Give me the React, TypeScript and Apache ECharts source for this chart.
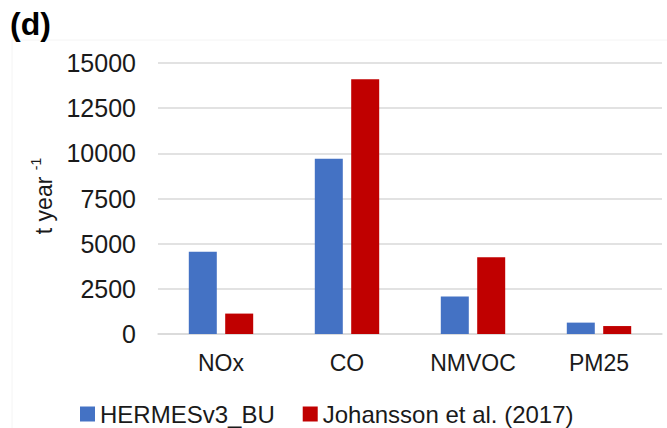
import React, { useEffect, useRef } from "react";
import * as echarts from "echarts";

const categories = ["NOx", "CO", "NMVOC", "PM25"];
const hermesValues = [4550, 9700, 2070, 630];
const johanssonValues = [1130, 14100, 4250, 440];
const seriesNames = ["HERMESv3_BU", "Johansson et al. (2017)"];
const yTicks = { min: 0, max: 15000, interval: 2500 };

export default function App() {
  const ref = useRef<HTMLDivElement>(null);
  useEffect(() => {
    if (!ref.current) return;
    const chart = echarts.init(ref.current, undefined, { renderer: "svg" });
    const font = "Liberation Sans, Arial, sans-serif";
    chart.setOption({
      animation: false,
      backgroundColor: "#ffffff",
      textStyle: { fontFamily: font },
      grid: { left: 158, right: 5, top: 63, bottom: 94, containLabel: false },
      xAxis: {
        type: "category",
        data: categories,
        axisTick: { show: false },
        axisLine: { lineStyle: { color: "#d9d9d9", width: 1.5 } },
        axisLabel: { color: "#1a1a1a", fontSize: 23, margin: 17, fontFamily: font },
      },
      yAxis: {
        type: "value",
        min: yTicks.min,
        max: yTicks.max,
        interval: yTicks.interval,
        axisLine: { show: false },
        axisTick: { show: false },
        splitLine: { lineStyle: { color: "#d9d9d9", width: 1.5 } },
        axisLabel: {
          color: "#1a1a1a",
          fontSize: 25,
          margin: 22,
          fontFamily: font,
          formatter: (v: number) => String(v),
        },
      },
      legend: {
        left: 75,
        top: 397,
        icon: "rect",
        itemWidth: 15,
        itemHeight: 15,
        itemGap: 28,
        textStyle: { color: "#1a1a1a", fontSize: 24, fontFamily: font },
        data: seriesNames,
      },
      series: [
        {
          name: seriesNames[0],
          type: "bar",
          data: hermesValues,
          barWidth: 28,
          barGap: "30%",
          itemStyle: { color: "#4472C4" },
        },
        {
          name: seriesNames[1],
          type: "bar",
          data: johanssonValues,
          barWidth: 28,
          barGap: "30%",
          itemStyle: { color: "#C00000" },
        },
      ],
      graphic: [
        {
          type: "rect",
          shape: { x: 12, y: 40, width: 700, height: 420 },
          style: { fill: "none", stroke: "#f4f4f4", lineWidth: 1 },
          silent: true,
        },
        {
          type: "text",
          left: 10,
          top: 8,
          style: {
            text: "(d)",
            fontSize: 32,
            fontWeight: "bold",
            fontFamily: font,
            fill: "#000000",
          },
        },
        {
          type: "text",
          x: 42,
          y: 196,
          rotation: Math.PI / 2,
          style: {
            text: "{a|t year }{b|-1}",
            align: "center",
            verticalAlign: "middle",
            fontFamily: font,
            rich: {
              a: { fontSize: 23, fill: "#1a1a1a", fontFamily: font, lineHeight: 26, verticalAlign: "bottom" },
              b: { fontSize: 14, fill: "#1a1a1a", fontFamily: font, lineHeight: 26, verticalAlign: "top" },
            },
          },
        },
      ],
    });
    return () => chart.dispose();
  }, []);
  return <div ref={ref} style={{ width: 667, height: 428, position: "absolute", left: 0, top: 0 }} />;
}
